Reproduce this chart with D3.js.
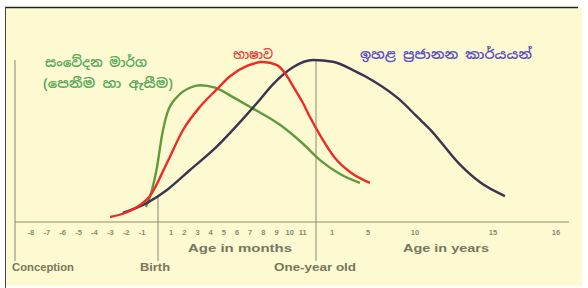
<!DOCTYPE html>
<html lang="si">
  <head>
    <meta charset="utf-8" />
    <title>Brain development</title>
    <script src="https://d3js.org/d3.v7.min.js"></script>
    <style>
      body { margin: 0; background: #fff; }
      .tick-label { font-family: "Liberation Sans", Arial, sans-serif; font-size: 7.5px; font-weight: bold; fill: #8c8b6c; }
      .axis-title { font-family: "Liberation Sans", Arial, sans-serif; font-size: 11px; font-weight: bold; fill: #78775b; }
      .curve-label { font-family: "Noto Sans Sinhala", "Noto Sans", sans-serif; font-size: 13px; font-weight: 600; }
    </style>
  </head>
  <body>
    <svg id="chart" width="588" height="288"></svg>
    <script>
      // axis units: months before birth (-9..0), months after birth (0..12), then 12 + years
      const prenatalTicks = [-8, -7, -6, -5, -4, -3, -2, -1];
      const monthTicks = [1, 2, 3, 4, 5, 6, 7, 8, 9, 10, 11];
      const yearTicks = [1, 5, 10, 15, 16];

      const milestones = [
        { label: "Conception", at: -9, len: 62 },
        { label: "Birth", at: 0, len: 30 },
        { label: "One-year old", at: 12, len: 82 }
      ];

      const labels = ["සංවේදන මාර්ග", "(පෙනීම හා ඇසීම)", "භාෂාව", "ඉහළ ප්‍රජානන කාර්යයන්"];

      // [axis unit, relative synapse formation]
      const sensing = [[-0.76, 8.3], [-0.38, 17.8], [-0.06, 30.6], [0.3, 48], [0.68, 60], [1.52, 70],
        [2.43, 74.6], [3.19, 76], [4.33, 74.6], [5.69, 69.4], [7.21, 63], [9.26, 54], [10.78, 45],
        [12.25, 34.4], [13.89, 26.7], [16.11, 21.7]];
      const language = [[-3.02, 2.8], [-2.08, 5], [-1.13, 9.4], [-0.5, 14.5], [0.68, 32.8], [1.9, 51.1],
        [3.19, 64], [4.48, 73.8], [5.47, 81], [6.76, 86.7], [7.97, 88.9], [9.04, 87.2], [9.64, 82.8],
        [10.25, 75.5], [11.01, 66.1], [11.54, 58.3], [12.25, 48.3], [13.33, 35.6], [15, 27.8], [17.21, 21.7]];
      const cognitive = [[-2.21, 5], [-0.69, 10.6], [0.68, 17.8], [2.43, 28.9], [4.48, 42], [6.23, 55.5],
        [7.52, 66.1], [8.73, 76.5], [10.25, 86], [11.77, 90], [13.11, 89], [15.33, 84.4], [17.53, 78.5],
        [20.4, 67.8], [22.13, 58.5], [22.96, 51.5], [24.87, 32], [26.15, 22.2], [27.19, 14.4]];

      const svg = d3.select("#chart");

      // frame
      svg.append("rect").attr("x", 5).attr("y", 7).attr("width", 577).attr("height", 279).attr("fill", "#fdf9d1");
      svg.append("line").attr("x1", 5).attr("x2", 578).attr("y1", 7.5).attr("y2", 7.5).attr("stroke", "#222").attr("stroke-width", 1.5);
      svg.append("line").attr("x1", 5.5).attr("x2", 5.5).attr("y1", 7).attr("y2", 288).attr("stroke", "#444").attr("stroke-width", 1);

      const x = d3.scaleLinear()
        .domain([-9, 0, 12, 13, 17, 22, 27, 28])
        .range([15, 158, 316, 332, 368, 415, 493, 556]);
      const y = d3.scaleLinear().domain([0, 100]).range([222, 42]);

      // milestone lines
      svg.append("line").attr("x1", x(-9)).attr("x2", x(-9)).attr("y1", 60).attr("y2", 261)
        .attr("stroke", "#9c9b80").attr("stroke-width", 1.2);
      svg.append("line").attr("x1", x(0)).attr("x2", x(0)).attr("y1", 195).attr("y2", 261)
        .attr("stroke", "#9c9b80").attr("stroke-width", 1.2);
      svg.append("line").attr("x1", x(12)).attr("x2", x(12)).attr("y1", 60).attr("y2", 261)
        .attr("stroke", "#9c9b80").attr("stroke-width", 1.2);

      // baseline
      svg.append("line").attr("x1", x(-9)).attr("x2", 569).attr("y1", y(0)).attr("y2", y(0))
        .attr("stroke", "#8f8e6e").attr("stroke-width", 1.2);

      const tickY = 235;
      svg.selectAll(".pre").data(prenatalTicks).enter().append("text")
        .attr("class", "tick-label").attr("x", d => x(d)).attr("y", tickY).attr("text-anchor", "middle").text(d => d);
      svg.selectAll(".mon").data(monthTicks).enter().append("text")
        .attr("class", "tick-label").attr("x", d => x(d)).attr("y", tickY).attr("text-anchor", "middle").text(d => d);
      svg.selectAll(".yr").data(yearTicks).enter().append("text")
        .attr("class", "tick-label").attr("x", d => x(12 + d)).attr("y", tickY).attr("text-anchor", "middle").text(d => d);

      svg.append("text").attr("class", "axis-title").attr("x", 188).attr("y", 252)
        .attr("textLength", 104).attr("lengthAdjust", "spacingAndGlyphs").text("Age in months");
      svg.append("text").attr("class", "axis-title").attr("x", 403).attr("y", 252)
        .attr("textLength", 86).attr("lengthAdjust", "spacingAndGlyphs").text("Age in years");

      svg.selectAll(".ms").data(milestones).enter().append("text")
        .attr("class", "axis-title")
        .attr("x", d => d.at === -9 ? 12 : x(d.at) - d.len / 2 + (d.at === 12 ? -1 : -3))
        .attr("y", 271)
        .attr("textLength", d => d.len)
        .attr("lengthAdjust", "spacingAndGlyphs")
        .text(d => d.label);

      const line = d3.line().x(d => x(d[0])).y(d => y(d[1])).curve(d3.curveMonotoneX);

      svg.append("path").datum(sensing).attr("d", line).attr("fill", "none")
        .attr("stroke", "#5f9a3f").attr("stroke-width", 2.4);
      svg.append("path").datum(cognitive).attr("d", line).attr("fill", "none")
        .attr("stroke", "#3a3450").attr("stroke-width", 2.4);
      svg.append("path").datum(language).attr("d", line).attr("fill", "none")
        .attr("stroke", "#ef2b26").attr("stroke-width", 2.4);

      // curve labels
      svg.append("text").attr("class", "curve-label").attr("x", 45).attr("y", 67).attr("fill", "#58a85a")
        .attr("textLength", 102).attr("lengthAdjust", "spacingAndGlyphs").text(labels[0]);
      svg.append("text").attr("class", "curve-label").attr("x", 43).attr("y", 88).attr("fill", "#58a85a")
        .attr("textLength", 130).attr("lengthAdjust", "spacingAndGlyphs").text(labels[1]);
      svg.append("text").attr("class", "curve-label").attr("x", 233).attr("y", 59).attr("fill", "#e0453c")
        .attr("textLength", 40).attr("lengthAdjust", "spacingAndGlyphs").text(labels[2]);
      svg.append("text").attr("class", "curve-label").attr("x", 360).attr("y", 59).attr("fill", "#5a4fc0")
        .attr("textLength", 172).attr("lengthAdjust", "spacingAndGlyphs").text(labels[3]);
    </script>
  </body>
</html>
